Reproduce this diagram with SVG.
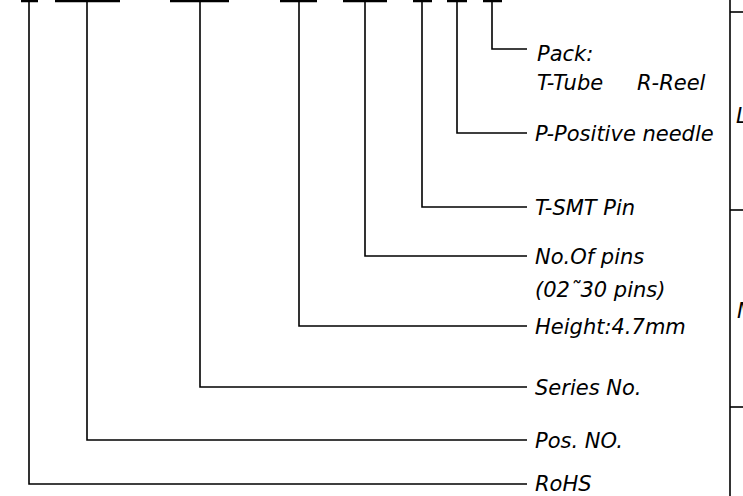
<svg xmlns="http://www.w3.org/2000/svg" width="743" height="496" viewBox="0 0 743 496">
<style>
.bar{stroke:#000;stroke-width:2.5;fill:none}
.ln{stroke:#000;stroke-width:1.6;fill:none}
.lbl{font-family:"DejaVu Sans",sans-serif;font-style:italic;font-size:21px;fill:#000}
</style>
<rect width="743" height="496" fill="#fff"/>
<g id="code-bars">
<line class="bar" x1="21" y1="1" x2="38" y2="1"/>
<line class="bar" x1="55" y1="1" x2="120" y2="1"/>
<line class="bar" x1="170" y1="1" x2="229" y2="1"/>
<line class="bar" x1="280" y1="1" x2="317" y2="1"/>
<line class="bar" x1="343" y1="1" x2="387" y2="1"/>
<line class="bar" x1="413" y1="1" x2="432" y2="1"/>
<line class="bar" x1="447" y1="1" x2="467" y2="1"/>
<line class="bar" x1="483" y1="1" x2="502" y2="1"/>
</g>
<g id="connectors">
<polyline class="ln" points="29,1 29,484 527,484"/>
<polyline class="ln" points="87,1 87,440 527,440"/>
<polyline class="ln" points="200,1 200,387 527,387"/>
<polyline class="ln" points="299,1 299,326 527,326"/>
<polyline class="ln" points="365,1 365,256 527,256"/>
<polyline class="ln" points="422,1 422,207 527,207"/>
<polyline class="ln" points="457,1 457,133 527,133"/>
<polyline class="ln" points="492,1 492,49 527,49"/>
</g>
<g id="label-pack">
<text class="lbl" x="537" y="61">Pack:</text>
<text class="lbl" x="537" y="90">T-Tube<tspan x="637">R-Reel</tspan></text>
</g>
<g id="label-positive"><text class="lbl" x="535" y="141">P-Positive needle</text></g>
<g id="label-smt"><text class="lbl" x="535" y="215">T-SMT Pin</text></g>
<g id="label-pins">
<text class="lbl" x="535" y="264">No.Of pins</text>
<text class="lbl" x="535" y="297">(02˜30 pins)</text>
</g>
<g id="label-height"><text class="lbl" x="535" y="334">Height:4.7mm</text></g>
<g id="label-series"><text class="lbl" x="535" y="395">Series No.</text></g>
<g id="label-pos"><text class="lbl" x="535" y="448">Pos. NO.</text></g>
<g id="label-rohs"><text class="lbl" x="535" y="491">RoHS</text></g>
<g id="right-table">
<line class="ln" x1="730" y1="0" x2="730" y2="496" stroke-width="2"/>
<line class="ln" x1="730" y1="12" x2="743" y2="12"/>
<line class="ln" x1="730" y1="210" x2="743" y2="210"/>
<line class="ln" x1="730" y1="407" x2="743" y2="407"/>
<text class="lbl" x="736" y="123">L</text>
<text class="lbl" x="737" y="318">M</text>
</g>
</svg>
